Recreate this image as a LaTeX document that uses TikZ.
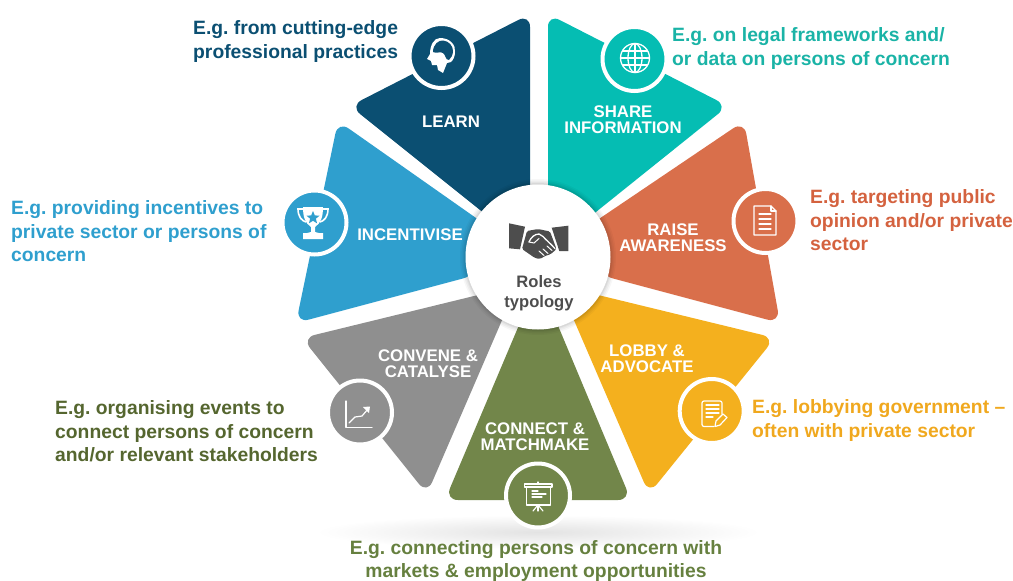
\documentclass[tikz,border=0pt]{standalone}
\usepackage{fontspec}
\setmainfont{Liberation Sans}
\usetikzlibrary{shapes.geometric}
\definecolor{clearn}{HTML}{0B4F72}
\definecolor{cshare}{HTML}{05BDB3}
\definecolor{craise}{HTML}{D96F4B}
\definecolor{clobby}{HTML}{F4B01E}
\definecolor{cconnect}{HTML}{72864A}
\definecolor{cconvene}{HTML}{8F8F8F}
\definecolor{cincent}{HTML}{2F9FCE}
\definecolor{tshare}{HTML}{1AB3A6}
\definecolor{traise}{HTML}{D4623F}
\definecolor{tlobby}{HTML}{F0A81E}
\definecolor{tconnect}{HTML}{66803F}
\definecolor{tconvene}{HTML}{55662F}
\definecolor{cdark}{HTML}{4D4D4D}
\tikzset{
  x=1pt,y=-1pt,
  petal/.style={rounded corners=13pt,draw=none},
  iconring/.style={circle,draw=white,line width=4pt,minimum size=64pt,inner sep=0pt},
  petallabel/.style={text=white,font=\bfseries\fontsize{16.8}{16}\selectfont,align=center,inner sep=0pt},
  note/.style={font=\frenchspacing\bfseries\fontsize{19.3}{23.5}\selectfont,align=left,inner sep=0pt,anchor=west},
  glyph/.style={draw=white,line width=1.3pt,line cap=round,line join=round}
}
\begin{document}
\begin{tikzpicture}
\useasboundingbox (0,0) rectangle (1013,581);
% ground shadow
\shade[inner color=black!11,outer color=white] (538,532) ellipse [x radius=222,y radius=17];
% petals
\fill[petal,clearn] (530,14) -- (350,106) -- (500,226) -- (530,226) -- cycle;
\fill[petal,cshare] (548,14) -- (728,106) -- (576,228) -- (548,228) -- cycle;
\fill[petal,craise] (744,121) -- (780,323) -- (600,275) -- (590,225) -- cycle;
\fill[petal,cincent] (338,121) -- (296,323) -- (476,275) -- (486,225) -- cycle;
\fill[petal,clobby] (559,285.5) -- (775,338) -- (649,494) -- cycle;
\fill[petal,cconvene] (517,285.5) -- (302,338) -- (427,494) -- cycle;
\fill[petal,cconnect] (538.5,279) -- (631,500) -- (445,500) -- cycle;
% hub shadow
\foreach \r/\o in {78/.03,76.5/.04,75/.04,74/.05}{\fill[black,opacity=\o] (538,257) circle (\r);}
\node[circle,fill=white,minimum size=145pt,inner sep=0pt] (hub) at (538,257) {};
% icon discs
\node[iconring,fill=clearn] (ilearn) at (441.5,56) {};
\node[iconring,fill=cshare] (ishare) at (634.5,59) {};
\node[iconring,fill=craise] (iraise) at (765.5,221) {};
\node[iconring,fill=cincent] (iincent) at (314.5,222.5) {};
\node[iconring,fill=cconvene] (iconvene) at (360,412.5) {};
\node[iconring,fill=clobby] (ilobby) at (711.7,411) {};
\node[iconring,fill=cconnect] (iconnect) at (538,495.5) {};
% brain head
\begin{scope}[shift={(442,57)}]
\fill[white] (-2,-19) .. controls (8,-19) and (14,-12) .. (13,-5) .. controls (13,0) and (11,3) .. (9,5)
  -- (5,6) -- (1,16) -- (-4,13) -- (-5,8) -- (-10,8) -- (-11,4) -- (-15,2) -- (-12,-3)
  .. controls (-12,-12) and (-8,-19) .. (-2,-19) -- cycle;
\fill[clearn] (-9,-5) .. controls (-9,-13) and (-3,-17) .. (1,-16.5) .. controls (7,-16) and (11,-11) .. (11,-6)
  .. controls (11,-2) and (9,1) .. (7,3) .. controls (3,3) and (4,-2) .. (1,-4) .. controls (-2,-6) and (-5,-3) .. (-9,-5) -- cycle;
\end{scope}
% globe
\begin{scope}[shift={(635,58)},glyph]
\draw (0,0) circle (14.5);
\draw (0,0) ellipse [x radius=7,y radius=14.5];
\draw (0,-14.5) -- (0,14.5);
\draw (-14.5,0) -- (14.5,0);
\draw (-12.5,-7) -- (12.5,-7);
\draw (-12.5,7) -- (12.5,7);
\end{scope}
% document
\begin{scope}[shift={(765,220)},glyph,line width=1.1pt]
\draw (-11,-14) -- (6,-14) -- (11,-9) -- (11,15) -- (-11,15) -- cycle;
\draw (6,-14) -- (6,-9) -- (11,-9);
\foreach \y in {-6,-1,4,9}{\draw (-6,\y) -- (6,\y);}
\end{scope}
% trophy
\begin{scope}[shift={(313,222)}]
\draw[white,line width=1.6pt] (-10,-13) -- (-15,-13) .. controls (-15,-5) and (-11,-1) .. (-7,0);
\draw[white,line width=1.6pt] (10,-13) -- (15,-13) .. controls (15,-5) and (11,-1) .. (7,0);
\fill[white] (-10,-15) -- (10,-15) .. controls (10,-5) and (8,1) .. (2,5) -- (2,10) -- (6,11) -- (10,11) -- (10,17) -- (-10,17) -- (-10,11) -- (-6,11) -- (-2,10) -- (-2,5) .. controls (-8,1) and (-10,-5) .. (-10,-15) -- cycle;
\fill[cincent] (0,-11) -- (1.8,-6.6) -- (6.5,-6.3) -- (2.9,-3.3) -- (4,1.3) -- (0,-1.2) -- (-4,1.3) -- (-2.9,-3.3) -- (-6.5,-6.3) -- (-1.8,-6.6) -- cycle;
\end{scope}
% chart
\begin{scope}[shift={(359,413)},glyph,line width=1.2pt]
\draw (-13,-12) -- (-13,14.5) -- (13,14.5);
\draw (-10,10) -- (-4,4) -- (3,3) -- (9,-4);
\fill[white,draw=none] (11,-6.5) -- (4,-6) -- (10,0) -- cycle;
\end{scope}
% note and pen
\begin{scope}[shift={(712,411)},glyph,line width=1.2pt]
\draw[rounded corners=2pt] (10,3) -- (10,-10) -- (-10,-10) -- (-10,15.5) -- (2,15.5);
\foreach \y/\e in {-6/7,-2/7,2/7,6/1}{\draw (-6,\y) -- (\e,\y);}
\draw (3,15.5) -- (4,10) -- (11,3) -- (15,6.5) -- (8,14) -- cycle;
\end{scope}
% presentation board
\begin{scope}[shift={(538,495)},glyph,line width=1.2pt]
\draw (-13.5,-11) rectangle (14,-8);
\draw (-11.5,-8) -- (-11.5,10) -- (12.5,10) -- (12.5,-8);
\draw (0,-13) -- (0,-11);
\draw (-6,-4) -- (0,-4);
\draw (-6,-1) -- (8,-1);
\draw (-6,2) -- (4,2);
\draw (0,10) -- (-5,16);
\draw (0,10) -- (0,16);
\draw (0,10) -- (5,16);
\end{scope}
% handshake
\fill[cdark] (509,223.3) -- (525,226.7) -- (520,249.3) -- (509,248.3) -- cycle;
\fill[cdark] (551.7,227.7) -- (568.3,225.7) -- (568.3,251) -- (559.3,251) -- cycle;
\fill[cdark,rounded corners=1.5pt] (527,231) -- (538,229) -- (550,231.5) -- (556.5,249) -- (551,254) -- (545,256) -- (540,259) -- (535,258) -- (522,249) -- cycle;
\draw[white,line width=1.3pt,line cap=round,line join=round] (529,242) .. controls (531,237) and (535,234) .. (539,234) -- (543,236.5) .. controls (546,240) and (550,243) .. (555,248.5);
\draw[white,line width=1pt,line cap=round] (529,242) -- (534,243) -- (539,238.5);
\draw[white,line width=1pt,line cap=round] (543,249) -- (548,253.5);
\draw[white,line width=1pt,line cap=round] (539,251) -- (544,255.5);
\draw[white,line width=1pt,line cap=round] (547,246) -- (552,250.5);
% labels
\node[petallabel] (llearn) at (451,122) {LEARN};
\node[petallabel] (lshare) at (623,120) {SHARE\\INFORMATION};
\node[petallabel] (lraise) at (673,238) {RAISE\\AWARENESS};
\node[petallabel] (lincent) at (410,235) {INCENTIVISE};
\node[petallabel] (lconvene) at (428,364) {CONVENE \&\\CATALYSE};
\node[petallabel] (llobby) at (647,359) {LOBBY \&\\ADVOCATE};
\node[petallabel] (lconnect) at (535,437) {CONNECT \&\\MATCHMAKE};
\node[text=cdark,font=\bfseries\fontsize{16.6}{20}\selectfont,align=center,inner sep=0pt] (lhub) at (539,293.5) {Roles\\typology};
% notes
\node[note,text=clearn] (nlearn) at (193,41.5) {E.g. from cutting-edge\\professional practices};
\node[note,text=tshare] (nshare) at (672,48.5) {E.g. on legal frameworks and/\\or data on persons of concern};
\node[note,text=traise] (nraise) at (810,220.5) {E.g. targeting public\\opinion and/or private\\sector};
\node[note,text=cincent] (nincent) at (11,231.5) {E.g. providing incentives to\\private sector or persons of\\concern};
\node[note,text=tconvene] (nconvene) at (55,431.5) {E.g. organising events to\\connect persons of concern\\and/or relevant stakeholders};
\node[note,text=tlobby] (nlobby) at (752,420.5) {E.g. lobbying government --\\often with private sector};
\node[note,anchor=center,align=center,text=tconnect,font=\frenchspacing\bfseries\fontsize{19.3}{22.5}\selectfont] (nconnect) at (536,561) {E.g. connecting persons of concern with\\markets \& employment opportunities};
\end{tikzpicture}
\end{document}
